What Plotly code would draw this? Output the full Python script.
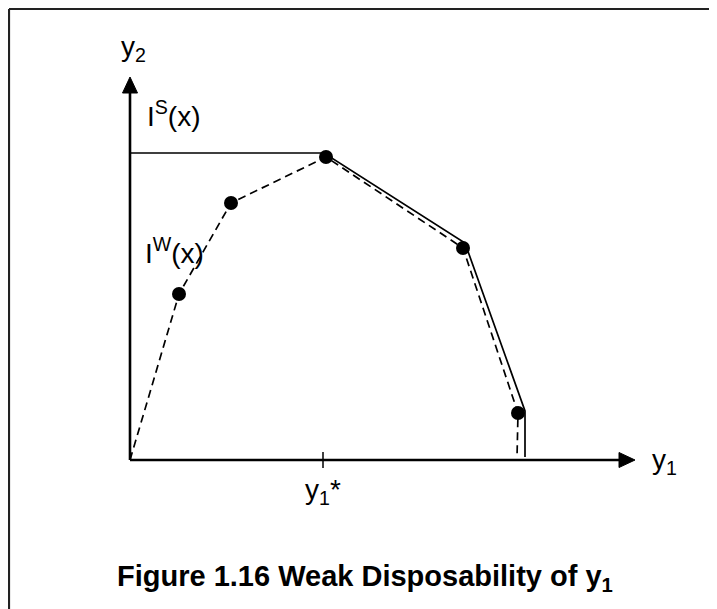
import plotly.graph_objects as go

# Data (abstract units: origin at axis corner)
weak_x = [0.0, 4.9, 10.1, 19.6, 33.3, 38.8, 38.7]
weak_y = [0.0, 16.6, 25.7, 30.3, 21.2, 4.7, 0.2]
strong_x = [0.0, 19.4, 33.5, 39.5, 39.5]
strong_y = [30.7, 30.7, 21.7, 4.9, 0.3]
obs_x = [4.9, 10.1, 19.6, 33.3, 38.8]
obs_y = [16.6, 25.7, 30.3, 21.2, 4.7]
y1_star = 19.3
title_text = "Figure 1.16 Weak Disposability of y<sub>1</sub>"

FONT = "Liberation Sans, Arial, sans-serif"

fig = go.Figure()
fig.add_trace(go.Scatter(x=weak_x, y=weak_y, mode="lines",
                         line=dict(color="black", width=1.7, dash="8px,5px"),
                         hoverinfo="skip"))
fig.add_trace(go.Scatter(x=strong_x, y=strong_y, mode="lines",
                         line=dict(color="black", width=1.7),
                         hoverinfo="skip"))
fig.add_trace(go.Scatter(x=obs_x, y=obs_y, mode="markers",
                         marker=dict(color="black", size=14),
                         hoverinfo="skip"))

shapes = []
# axes lines
shapes.append(dict(type="line", x0=0, y0=0, x1=49.5, y1=0,
                   line=dict(color="black", width=2.6)))
shapes.append(dict(type="line", x0=0, y0=0, x1=0, y1=37.3,
                   line=dict(color="black", width=2.6)))
# arrowheads
shapes.append(dict(type="path", path="M 48.9,0.75 L 50.5,0 L 48.9,-0.75 Z",
                   fillcolor="black", line=dict(color="black", width=1)))
shapes.append(dict(type="path", path="M -0.75,36.7 L 0,38.3 L 0.75,36.7 Z",
                   fillcolor="black", line=dict(color="black", width=1)))
# tick at y1*
shapes.append(dict(type="line", x0=y1_star, y0=-0.8, x1=y1_star, y1=0.8,
                   line=dict(color="black", width=1.5)))
# frame (top and left)
shapes.append(dict(type="line", xref="paper", yref="paper",
                   x0=1/717, y0=1-1/609, x1=1.01, y1=1-1/609,
                   line=dict(color="#222", width=2.2)))
shapes.append(dict(type="line", xref="paper", yref="paper",
                   x0=1/717, y0=1-1/609, x1=1/717, y1=-0.01,
                   line=dict(color="#222", width=2.2)))

ann = []
def label(x, y, t, size=28, xanchor="left"):
    ann.append(dict(x=x, y=y, text=t, showarrow=False, xanchor=xanchor,
                    yanchor="middle",
                    font=dict(family=FONT, size=size, color="black")))

label(0.3, 41.2, "y<sub>2</sub>", xanchor="center")
label(1.5, 34.6, "I<sup>S</sup>(x)")
label(1.3, 20.9, "I<sup>W</sup>(x)")
label(y1_star, -3.1, "y<sub>1</sub>*", xanchor="center")
label(52.0, -0.1, "y<sub>1</sub>")
ann.append(dict(xref="paper", yref="paper", x=357/717, y=1-570/609,
                text="<b>" + title_text + "</b>", showarrow=False,
                xanchor="center", yanchor="middle",
                font=dict(family=FONT, size=29, color="black")))

fig.update_layout(
    width=717, height=609,
    margin=dict(l=0, r=0, t=0, b=0),
    paper_bgcolor="white", plot_bgcolor="white",
    showlegend=False,
    shapes=shapes, annotations=ann,
    xaxis=dict(range=[-12.2, 59.5], visible=False, fixedrange=True),
    yaxis=dict(range=[-15.7, 45.2], visible=False, fixedrange=True),
)
fig.write_html("out.html")
